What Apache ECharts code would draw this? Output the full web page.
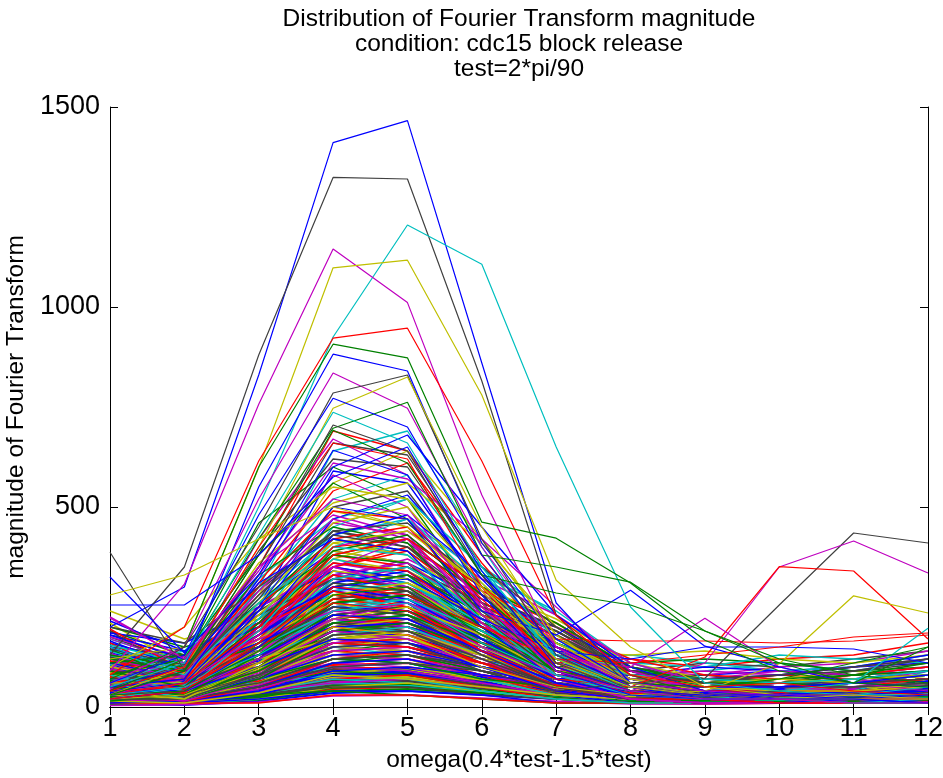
<!DOCTYPE html>
<html>
<head>
<meta charset="utf-8">
<script src="https://cdn.jsdelivr.net/npm/echarts@6/dist/echarts.min.js"></script>
<style>
html,body{margin:0;padding:0;background:#fff;}
#chart{width:943px;height:778px;}
</style>
</head>
<body>
<div id="chart"></div>
<script>
const categories = ['1','2','3','4','5','6','7','8','9','10','11','12'];
const yTicks = [0, 500, 1000, 1500];
const titleLines = ['Distribution of Fourier Transform magnitude', 'condition: cdc15 block release', 'test=2*pi/90'];
const xName = 'omega(0.4*test-1.5*test)';
const yName = 'magnitude of Fourier Transform';
const matlabColors = ['#0000FF', '#008000', '#FF0000', '#00BFBF', '#BF00BF', '#BFBF00', '#404040'];

// prominent lines, each with its own colour
const highLines = [
  [200, 300, 830, 1411, 1466, 860, 260, 60, 40, 30, 25, 30],
  [130, 350, 880, 1324, 1320, 815, 230, 50, 30, 40, 30, 20],
  [60, 120, 500, 925, 1205, 1107, 650, 250, 60, 40, 30, 50],
  [90, 307, 757, 1145, 1011, 530, 150, 60, 40, 30, 30, 20],
  [120, 150, 598, 1098, 1117, 780, 317, 150, 50, 30, 20, 30],
  [80, 200, 615, 922, 947, 615, 228, 80, 50, 60, 40, 30],
  [70, 150, 600, 907, 873, 462, 422, 310, 167, 90, 60, 50],
  [50, 100, 550, 882, 840, 410, 170, 60, 30, 20, 20, 30],
  [60, 150, 520, 835, 747, 400, 150, 50, 30, 30, 20, 20],
  [40, 150, 450, 785, 830, 420, 130, 40, 30, 20, 20, 10],
  [30, 100, 400, 747, 825, 450, 160, 60, 30, 20, 30, 20],
  [40, 120, 420, 697, 762, 380, 350, 312, 190, 120, 80, 60],
  [60, 130, 480, 772, 700, 380, 140, 50, 30, 30, 20, 20],
  [50, 110, 430, 737, 660, 350, 120, 40, 20, 20, 10, 20],
  [387, 92, 380, 705, 640, 330, 110, 40, 20, 20, 10, 10],
  [30, 90, 380, 692, 610, 330, 285, 255, 190, 110, 60, 150],
  [40, 100, 400, 660, 620, 300, 100, 40, 30, 20, 20, 20],
  [325, 135, 330, 642, 580, 280, 90, 30, 20, 20, 20, 10],
  [280, 330, 420, 500, 450, 300, 120, 50, 30, 20, 20, 20],
  [255, 255, 380, 575, 650, 340, 100, 40, 30, 20, 20, 10],
  [222, 120, 350, 520, 480, 260, 90, 40, 20, 20, 10, 10]
];
const highColors = ['#0000FF', '#404040', '#00BFBF', '#BF00BF', '#BFBF00', '#FF0000', '#008000',
  '#0000FF', '#BF00BF', '#404040', '#BFBF00', '#008000', '#0000FF', '#00BFBF', '#404040',
  '#008000', '#FF0000', '#0000FF', '#BFBF00', '#0000FF', '#BF00BF'];

// lines with features on the right side
const rightLines = [
  [20, 30, 80, 150, 160, 90, 40, 60, 72, 255, 435, 410],
  [30, 40, 120, 220, 260, 150, 80, 40, 110, 350, 415, 335],
  [40, 50, 150, 260, 240, 140, 70, 50, 125, 351, 340, 170],
  [20, 30, 100, 200, 180, 100, 50, 30, 40, 108, 278, 235],
  [30, 60, 180, 350, 420, 250, 120, 100, 222, 100, 60, 40],
  [40, 60, 250, 500, 470, 240, 180, 292, 152, 100, 60, 50],
  [30, 60, 200, 400, 420, 300, 170, 165, 165, 160, 165, 180],
  [20, 40, 150, 300, 320, 220, 140, 120, 150, 150, 145, 110],
  [30, 50, 130, 240, 260, 160, 80, 40, 30, 40, 60, 197],
  [20, 40, 160, 300, 280, 200, 120, 110, 130, 150, 175, 185],
  [30, 40, 140, 280, 300, 180, 90, 60, 50, 70, 110, 150]
];
const rightColors = ['#404040', '#BF00BF', '#FF0000', '#BFBF00', '#BF00BF', '#0000FF', '#FF0000',
  '#0000FF', '#00BFBF', '#FF0000', '#008000'];

const upperLines = [
  [50, 80, 350, 690, 640, 380, 140, 40, 30, 20, 20, 10],
  [70, 60, 300, 640, 690, 400, 120, 50, 20, 30, 20, 20],
  [30, 90, 420, 670, 580, 290, 90, 30, 20, 10, 20, 10],
  [100, 70, 280, 560, 640, 420, 180, 60, 30, 20, 30, 20],
  [40, 110, 390, 620, 600, 330, 110, 40, 20, 20, 10, 20],
  [60, 50, 250, 590, 560, 300, 100, 30, 20, 20, 20, 10],
  [80, 120, 460, 600, 520, 260, 80, 30, 20, 10, 10, 10],
  [20, 60, 310, 540, 610, 360, 150, 50, 30, 20, 20, 20],
  [150, 90, 290, 520, 580, 340, 130, 40, 30, 20, 30, 30],
  [30, 70, 330, 580, 500, 250, 70, 20, 10, 10, 10, 10],
  [50, 100, 360, 510, 560, 410, 200, 80, 30, 20, 20, 20],
  [90, 80, 270, 500, 540, 300, 100, 40, 20, 20, 20, 20],
  [40, 40, 240, 470, 530, 320, 130, 50, 30, 20, 10, 20],
  [110, 130, 380, 560, 470, 230, 80, 30, 20, 20, 10, 10],
  [60, 90, 300, 490, 470, 280, 110, 40, 30, 20, 20, 20],
  [20, 50, 220, 450, 520, 350, 170, 60, 30, 20, 20, 20],
  [170, 110, 350, 480, 430, 230, 80, 30, 20, 10, 20, 10],
  [40, 60, 260, 460, 500, 290, 110, 40, 20, 20, 20, 10],
  [70, 80, 280, 440, 460, 300, 140, 60, 40, 30, 20, 20],
  [30, 50, 200, 430, 480, 330, 150, 50, 20, 20, 10, 10],
  [120, 90, 330, 450, 410, 220, 90, 40, 20, 20, 20, 20],
  [50, 70, 250, 420, 450, 270, 100, 30, 20, 10, 10, 10],
  [80, 40, 190, 400, 470, 310, 130, 50, 30, 20, 20, 20],
  [30, 80, 290, 470, 420, 210, 70, 20, 10, 10, 10, 10],
  [60, 60, 230, 410, 440, 300, 160, 70, 40, 20, 20, 20],
  [200, 160, 300, 430, 400, 240, 100, 40, 20, 20, 20, 20],
  [40, 100, 310, 420, 390, 200, 70, 30, 20, 10, 20, 10],
  [90, 50, 210, 390, 430, 280, 120, 50, 30, 20, 20, 20],
  [20, 40, 180, 380, 420, 260, 90, 30, 20, 10, 10, 10],
  [140, 80, 260, 400, 380, 220, 80, 30, 20, 20, 10, 10],
  [60, 120, 340, 610, 570, 420, 250, 90, 40, 30, 20, 20],
  [100, 200, 420, 550, 520, 310, 140, 60, 30, 20, 20, 20],
  [30, 90, 350, 660, 630, 350, 200, 80, 30, 20, 20, 20],
  [50, 70, 320, 600, 680, 450, 230, 100, 40, 20, 20, 20]
];

const middleLines = [
  [40, 50, 200, 380, 360, 200, 70, 30, 20, 20, 10, 10],
  [60, 40, 170, 350, 390, 250, 100, 40, 20, 20, 20, 20],
  [30, 70, 220, 370, 330, 170, 60, 20, 10, 10, 10, 10],
  [80, 60, 160, 330, 360, 230, 110, 50, 30, 20, 20, 20],
  [20, 30, 150, 340, 320, 190, 70, 30, 20, 10, 10, 10],
  [50, 80, 230, 320, 300, 160, 60, 20, 20, 10, 10, 10],
  [100, 60, 180, 310, 340, 220, 90, 40, 30, 20, 20, 20],
  [30, 40, 140, 300, 330, 200, 80, 30, 20, 20, 20, 10],
  [70, 90, 210, 330, 290, 150, 50, 20, 10, 10, 10, 10],
  [40, 30, 130, 290, 310, 210, 100, 40, 20, 20, 10, 20],
  [120, 80, 190, 300, 280, 160, 70, 30, 20, 20, 20, 20],
  [20, 50, 170, 280, 300, 190, 80, 30, 20, 10, 10, 10],
  [60, 40, 120, 270, 290, 180, 70, 30, 20, 20, 20, 20],
  [30, 60, 180, 290, 260, 140, 50, 20, 10, 10, 10, 10],
  [90, 50, 150, 260, 280, 190, 90, 40, 30, 20, 20, 20],
  [40, 70, 160, 270, 250, 150, 60, 20, 20, 10, 10, 10],
  [20, 30, 110, 250, 270, 170, 70, 30, 20, 20, 10, 10],
  [50, 40, 140, 240, 260, 180, 90, 40, 20, 20, 20, 20],
  [80, 70, 170, 260, 230, 130, 50, 20, 10, 10, 10, 10],
  [30, 20, 100, 230, 250, 160, 70, 30, 20, 10, 10, 10],
  [150, 90, 160, 250, 240, 150, 60, 30, 20, 20, 20, 20],
  [40, 50, 130, 220, 240, 170, 80, 40, 30, 20, 20, 20],
  [60, 30, 120, 230, 210, 130, 50, 20, 10, 10, 10, 10],
  [20, 40, 110, 210, 230, 150, 70, 30, 20, 20, 10, 10],
  [70, 60, 140, 220, 200, 120, 40, 20, 10, 10, 10, 10],
  [30, 20, 90, 200, 220, 150, 70, 30, 20, 20, 20, 20],
  [50, 50, 120, 210, 190, 110, 50, 20, 20, 10, 10, 10],
  [110, 70, 130, 200, 210, 140, 60, 30, 20, 20, 20, 20],
  [20, 30, 90, 190, 210, 140, 60, 20, 10, 10, 10, 10],
  [40, 40, 110, 200, 180, 110, 40, 20, 10, 10, 10, 10],
  [60, 20, 80, 180, 200, 130, 60, 30, 20, 20, 20, 20],
  [30, 50, 100, 190, 170, 100, 40, 20, 10, 10, 10, 10],
  [90, 60, 120, 170, 190, 130, 70, 30, 20, 20, 20, 20],
  [20, 20, 80, 180, 190, 120, 50, 20, 10, 10, 10, 10],
  [50, 40, 100, 170, 160, 100, 40, 20, 10, 10, 10, 10],
  [130, 100, 150, 230, 220, 140, 60, 30, 20, 20, 20, 20],
  [40, 60, 190, 360, 340, 210, 90, 40, 20, 20, 20, 20],
  [70, 40, 160, 320, 350, 240, 120, 50, 30, 20, 20, 20],
  [30, 80, 250, 350, 300, 170, 60, 20, 10, 10, 10, 10],
  [90, 50, 140, 280, 310, 230, 110, 50, 30, 20, 20, 20],
  [20, 40, 160, 310, 290, 170, 60, 20, 10, 10, 10, 10],
  [180, 120, 200, 300, 270, 170, 70, 30, 20, 20, 20, 20],
  [50, 30, 130, 260, 280, 200, 90, 40, 20, 20, 20, 20],
  [60, 70, 200, 290, 250, 140, 50, 20, 20, 10, 10, 10],
  [30, 50, 150, 240, 270, 190, 100, 50, 30, 20, 20, 20],
  [100, 80, 170, 240, 220, 140, 60, 30, 20, 20, 10, 10],
  [40, 20, 110, 220, 250, 180, 80, 30, 20, 20, 20, 20],
  [70, 60, 150, 250, 230, 130, 50, 20, 10, 10, 10, 10],
  [20, 40, 120, 230, 220, 140, 60, 30, 20, 20, 20, 10],
  [50, 30, 100, 210, 230, 160, 80, 40, 20, 20, 20, 20]
];

const denseLines = [
  [45, 35, 110, 230, 250, 170, 120, 60, 50, 70, 60, 80],
  [160, 70, 150, 280, 300, 210, 150, 80, 40, 30, 50, 60],
  [90, 40, 200, 420, 380, 240, 160, 70, 60, 50, 40, 90],
  [30, 60, 170, 310, 350, 260, 190, 90, 40, 60, 70, 50],
  [210, 100, 180, 250, 230, 160, 100, 50, 30, 40, 30, 40],
  [60, 25, 90, 190, 210, 160, 130, 70, 80, 60, 90, 110],
  [120, 90, 260, 390, 360, 230, 170, 90, 50, 40, 60, 70],
  [15, 30, 140, 280, 260, 180, 140, 40, 30, 20, 30, 40],
  [75, 55, 160, 350, 400, 290, 210, 100, 60, 50, 40, 60],
  [140, 120, 230, 330, 300, 190, 120, 60, 40, 50, 60, 80],
  [35, 15, 70, 160, 180, 140, 110, 80, 70, 90, 80, 100],
  [100, 60, 190, 370, 420, 300, 220, 110, 70, 60, 50, 70],
  [55, 80, 240, 440, 400, 260, 180, 80, 40, 30, 40, 50],
  [180, 140, 210, 300, 280, 200, 140, 70, 50, 60, 70, 90],
  [25, 45, 120, 260, 290, 220, 160, 90, 60, 70, 60, 80],
  [85, 30, 100, 220, 240, 180, 130, 60, 40, 30, 30, 40],
  [130, 75, 170, 290, 330, 240, 180, 90, 50, 40, 50, 60],
  [50, 100, 280, 460, 430, 280, 190, 80, 50, 40, 40, 50],
  [240, 170, 220, 310, 290, 180, 110, 50, 30, 30, 30, 40],
  [40, 20, 80, 200, 230, 170, 120, 70, 60, 80, 90, 120],
  [110, 50, 130, 250, 270, 200, 150, 80, 60, 50, 70, 80],
  [65, 85, 220, 360, 340, 230, 160, 70, 40, 30, 30, 40],
  [20, 35, 130, 300, 330, 250, 200, 120, 80, 70, 60, 70],
  [170, 110, 190, 270, 250, 170, 110, 60, 40, 50, 40, 60],
  [95, 65, 150, 320, 370, 280, 200, 100, 60, 50, 60, 70],
  [45, 90, 250, 410, 380, 250, 180, 90, 50, 40, 50, 50],
  [150, 130, 240, 350, 320, 220, 150, 70, 50, 40, 40, 50],
  [30, 50, 140, 240, 260, 200, 150, 90, 70, 80, 100, 130],
  [200, 150, 200, 280, 260, 180, 120, 60, 40, 30, 40, 50],
  [70, 40, 120, 270, 300, 230, 170, 90, 60, 50, 50, 60],
  [125, 95, 210, 340, 310, 200, 140, 70, 50, 60, 50, 70],
  [55, 25, 110, 230, 260, 190, 140, 80, 60, 50, 60, 90],
  [85, 110, 300, 490, 450, 300, 210, 100, 60, 50, 40, 50],
  [190, 80, 160, 260, 240, 170, 120, 60, 40, 40, 30, 40],
  [35, 60, 180, 330, 360, 270, 200, 100, 60, 50, 50, 60],
  [145, 60, 140, 230, 250, 190, 140, 80, 60, 60, 70, 80],
  [60, 35, 100, 210, 220, 160, 120, 70, 50, 60, 80, 100],
  [105, 140, 320, 470, 520, 350, 230, 100, 50, 40, 50, 60],
  [225, 120, 190, 290, 270, 190, 130, 70, 50, 40, 40, 50],
  [40, 70, 200, 370, 340, 250, 170, 80, 50, 50, 40, 60],
  [80, 45, 120, 240, 280, 220, 170, 100, 70, 60, 60, 70],
  [165, 95, 170, 260, 240, 170, 120, 60, 40, 30, 40, 50],
  [25, 20, 70, 170, 190, 150, 110, 70, 60, 70, 80, 90],
  [115, 85, 220, 380, 350, 240, 170, 80, 50, 40, 50, 60],
  [50, 105, 270, 430, 470, 330, 240, 110, 60, 50, 50, 60],
  [135, 65, 130, 220, 240, 180, 130, 70, 50, 50, 60, 70],
  [70, 50, 160, 300, 280, 200, 150, 70, 50, 40, 50, 60],
  [95, 130, 290, 440, 410, 280, 200, 90, 50, 40, 40, 50],
  [185, 160, 250, 340, 310, 210, 140, 70, 40, 40, 30, 40],
  [20, 40, 120, 260, 280, 210, 160, 90, 70, 60, 80, 110],
  [75, 30, 90, 180, 200, 150, 110, 60, 50, 50, 60, 70],
  [155, 110, 200, 310, 290, 200, 140, 70, 50, 40, 50, 60],
  [45, 75, 210, 400, 440, 320, 230, 110, 60, 50, 40, 50],
  [110, 60, 140, 270, 250, 180, 130, 70, 60, 70, 60, 80],
  [30, 25, 90, 200, 220, 170, 130, 80, 70, 80, 100, 120],
  [215, 140, 210, 320, 300, 200, 130, 60, 40, 30, 40, 40],
  [65, 95, 260, 420, 390, 260, 190, 90, 50, 40, 40, 50],
  [90, 45, 130, 250, 270, 200, 150, 80, 60, 50, 50, 70],
  [40, 55, 170, 330, 310, 220, 160, 80, 50, 50, 50, 60],
  [175, 125, 230, 360, 330, 220, 150, 70, 50, 40, 40, 50],
  [60, 20, 80, 170, 180, 130, 100, 60, 50, 60, 70, 80],
  [125, 80, 180, 300, 330, 250, 180, 90, 60, 50, 60, 70],
  [35, 65, 200, 350, 320, 220, 150, 70, 40, 40, 40, 50],
  [80, 100, 260, 380, 420, 300, 210, 100, 60, 60, 50, 60],
  [195, 90, 170, 280, 260, 180, 120, 60, 40, 40, 40, 50],
  [50, 30, 100, 210, 230, 170, 130, 80, 70, 60, 70, 90],
  [100, 70, 190, 330, 300, 200, 140, 70, 50, 50, 50, 60],
  [30, 85, 230, 390, 360, 240, 170, 80, 50, 40, 40, 50],
  [145, 105, 210, 320, 350, 260, 190, 90, 60, 50, 50, 60],
  [70, 40, 110, 220, 200, 150, 110, 60, 50, 50, 60, 80]
];

const fillLines = [
  [25, 15, 55, 110, 120, 90, 60, 40, 30, 50, 40, 60],
  [65, 45, 95, 160, 170, 120, 80, 50, 60, 40, 50, 70],
  [15, 25, 75, 180, 190, 130, 90, 60, 40, 30, 30, 40],
  [105, 75, 115, 190, 180, 130, 80, 40, 30, 40, 50, 40],
  [45, 20, 60, 140, 160, 120, 90, 60, 50, 60, 70, 50],
  [35, 55, 130, 210, 200, 140, 90, 50, 30, 20, 30, 30],
  [85, 35, 70, 150, 140, 100, 70, 50, 40, 30, 40, 50],
  [20, 10, 45, 100, 110, 80, 60, 40, 40, 50, 60, 70],
  [55, 65, 150, 230, 220, 150, 100, 60, 40, 30, 40, 40],
  [125, 85, 120, 170, 160, 110, 70, 40, 30, 30, 30, 40],
  [10, 15, 40, 90, 100, 80, 50, 30, 30, 40, 30, 50],
  [70, 50, 110, 200, 210, 150, 100, 60, 50, 50, 60, 60],
  [40, 25, 80, 170, 150, 100, 60, 30, 20, 30, 20, 30],
  [95, 60, 100, 160, 180, 140, 100, 70, 60, 70, 60, 70],
  [30, 40, 90, 150, 140, 90, 60, 40, 20, 20, 30, 40],
  [150, 90, 110, 150, 140, 100, 60, 40, 30, 30, 40, 50],
  [20, 20, 70, 160, 170, 130, 90, 50, 40, 40, 50, 60],
  [60, 40, 90, 190, 220, 170, 120, 70, 50, 40, 40, 50],
  [45, 30, 60, 120, 110, 70, 50, 30, 20, 30, 30, 20],
  [115, 70, 130, 220, 210, 150, 100, 60, 40, 40, 50, 60],
  [25, 35, 100, 200, 230, 170, 110, 60, 40, 30, 40, 40],
  [80, 45, 85, 140, 150, 110, 80, 60, 50, 60, 50, 60],
  [15, 10, 35, 80, 70, 50, 30, 20, 20, 20, 30, 30],
  [55, 50, 120, 240, 250, 180, 120, 70, 50, 40, 40, 50],
  [135, 100, 140, 200, 190, 130, 80, 50, 30, 30, 30, 40],
  [35, 20, 50, 110, 130, 100, 70, 50, 40, 50, 60, 80],
  [70, 60, 130, 210, 190, 130, 90, 50, 40, 30, 30, 40],
  [100, 50, 90, 170, 190, 140, 100, 60, 40, 50, 40, 50],
  [20, 30, 80, 130, 120, 80, 50, 30, 20, 20, 20, 30],
  [50, 30, 70, 150, 170, 130, 90, 60, 50, 40, 50, 60],
  [175, 110, 150, 210, 200, 140, 90, 50, 30, 30, 40, 40],
  [40, 45, 110, 190, 180, 120, 80, 40, 30, 30, 30, 40],
  [90, 55, 100, 180, 200, 160, 110, 70, 50, 50, 60, 70],
  [30, 15, 50, 120, 140, 110, 80, 50, 40, 40, 40, 50],
  [60, 75, 160, 260, 240, 160, 110, 60, 40, 40, 30, 40],
  [110, 65, 110, 190, 210, 150, 100, 60, 40, 30, 40, 50],
  [25, 25, 60, 140, 150, 110, 70, 40, 30, 30, 40, 40],
  [75, 40, 80, 160, 150, 100, 70, 50, 40, 40, 50, 60],
  [45, 60, 140, 220, 240, 170, 120, 70, 50, 40, 40, 50],
  [130, 80, 120, 190, 170, 110, 70, 40, 30, 30, 30, 40]
];

const baseLines = [
  [15, 10, 25, 60, 70, 50, 30, 20, 15, 20, 25, 30],
  [35, 25, 40, 75, 80, 60, 40, 25, 30, 35, 40, 45],
  [5, 8, 20, 45, 50, 35, 20, 10, 8, 10, 12, 15],
  [25, 15, 35, 85, 95, 70, 45, 30, 25, 20, 30, 35],
  [55, 35, 45, 70, 65, 45, 30, 20, 20, 25, 30, 40],
  [12, 18, 30, 55, 60, 45, 30, 15, 20, 30, 35, 25],
  [45, 30, 55, 95, 90, 65, 40, 30, 35, 40, 45, 55],
  [8, 5, 15, 35, 40, 30, 20, 12, 10, 15, 20, 20],
  [28, 22, 50, 90, 85, 55, 35, 20, 15, 15, 20, 25],
  [65, 45, 60, 90, 100, 75, 50, 35, 30, 30, 35, 45],
  [18, 12, 28, 65, 75, 60, 40, 25, 20, 25, 20, 30],
  [38, 28, 42, 65, 60, 40, 25, 15, 15, 20, 25, 25],
  [10, 15, 35, 75, 70, 50, 35, 25, 30, 35, 30, 40],
  [50, 20, 30, 55, 65, 55, 40, 30, 25, 30, 40, 50],
  [22, 30, 45, 80, 90, 70, 50, 35, 40, 45, 50, 60],
  [6, 10, 18, 40, 45, 35, 25, 15, 12, 12, 15, 18],
  [42, 35, 60, 100, 95, 70, 45, 30, 20, 25, 30, 35],
  [16, 8, 20, 50, 55, 40, 25, 18, 18, 22, 28, 32],
  [32, 18, 38, 70, 80, 60, 45, 35, 30, 35, 45, 50],
  [75, 50, 55, 80, 75, 55, 35, 25, 20, 20, 25, 30],
  [12, 22, 40, 85, 80, 55, 35, 20, 15, 20, 18, 22],
  [48, 32, 50, 85, 95, 75, 55, 40, 35, 40, 50, 65],
  [20, 14, 26, 48, 52, 38, 24, 16, 14, 16, 20, 24],
  [60, 40, 65, 105, 110, 80, 55, 35, 30, 35, 40, 50],
  [26, 20, 35, 60, 55, 40, 28, 18, 16, 18, 22, 26],
  [4, 6, 12, 28, 30, 22, 14, 8, 8, 10, 10, 12],
  [36, 26, 48, 88, 92, 68, 44, 28, 26, 30, 36, 42],
  [14, 20, 32, 68, 64, 46, 30, 22, 24, 28, 32, 38],
  [54, 38, 52, 78, 84, 62, 42, 30, 28, 32, 38, 46],
  [9, 12, 22, 52, 58, 42, 28, 18, 16, 20, 24, 28]
];

const lowLines = [
  [30, 20, 60, 140, 150, 100, 50, 20, 10, 10, 10, 10],
  [50, 40, 80, 150, 130, 80, 30, 20, 10, 10, 10, 10],
  [20, 30, 70, 130, 140, 90, 40, 20, 20, 10, 10, 10],
  [80, 50, 90, 140, 120, 70, 30, 20, 20, 20, 20, 20],
  [10, 20, 50, 120, 130, 90, 40, 20, 10, 10, 10, 10],
  [40, 30, 70, 120, 110, 70, 30, 10, 10, 10, 10, 10],
  [60, 40, 80, 130, 120, 80, 40, 20, 20, 20, 10, 10],
  [20, 10, 40, 110, 120, 80, 40, 20, 10, 10, 10, 10],
  [30, 30, 60, 100, 110, 70, 30, 20, 10, 10, 10, 10],
  [100, 60, 70, 110, 100, 60, 30, 20, 20, 20, 20, 20],
  [20, 20, 50, 90, 100, 70, 30, 10, 10, 10, 10, 10],
  [40, 30, 60, 100, 90, 60, 20, 10, 10, 10, 10, 10],
  [10, 10, 30, 80, 90, 60, 30, 10, 10, 10, 10, 10],
  [50, 40, 50, 90, 80, 50, 30, 20, 20, 20, 20, 20],
  [30, 20, 40, 70, 80, 50, 20, 10, 10, 10, 10, 10],
  [20, 30, 40, 70, 60, 40, 20, 10, 10, 10, 10, 10],
  [60, 30, 40, 60, 70, 50, 30, 20, 20, 20, 20, 20],
  [10, 10, 20, 50, 60, 40, 20, 10, 10, 10, 10, 10],
  [30, 20, 30, 50, 50, 30, 20, 10, 10, 10, 10, 10],
  [20, 10, 20, 40, 40, 30, 10, 10, 10, 10, 10, 10],
  [40, 20, 30, 40, 30, 20, 10, 10, 10, 10, 10, 10],
  [10, 10, 10, 30, 30, 20, 10, 10, 10, 10, 10, 10],
  [70, 50, 60, 80, 70, 40, 20, 10, 10, 10, 10, 10],
  [90, 70, 80, 100, 90, 60, 30, 20, 10, 10, 10, 10],
  [120, 80, 90, 130, 120, 70, 30, 20, 20, 20, 20, 20],
  [140, 100, 120, 150, 140, 90, 40, 20, 20, 20, 20, 20],
  [160, 110, 130, 160, 150, 100, 50, 30, 20, 20, 20, 20],
  [190, 130, 140, 170, 160, 90, 40, 20, 20, 20, 20, 20],
  [110, 90, 100, 140, 130, 80, 30, 20, 10, 10, 10, 10],
  [80, 60, 70, 100, 110, 70, 30, 20, 10, 10, 10, 10]
];

const tailLines = [
  [20, 30, 80, 160, 170, 110, 60, 40, 60, 80, 70, 90],
  [30, 40, 100, 200, 190, 120, 70, 80, 90, 110, 90, 120],
  [40, 30, 90, 170, 180, 130, 90, 100, 70, 60, 80, 100],
  [20, 20, 60, 130, 140, 100, 70, 60, 50, 70, 60, 80],
  [30, 50, 120, 220, 200, 140, 100, 90, 110, 100, 120, 140],
  [50, 40, 80, 150, 160, 120, 80, 70, 80, 90, 100, 110],
  [20, 30, 70, 120, 130, 90, 60, 50, 40, 50, 40, 60],
  [40, 60, 130, 250, 230, 150, 110, 120, 100, 120, 130, 160],
  [60, 50, 110, 210, 220, 160, 120, 130, 110, 90, 100, 130],
  [30, 30, 70, 140, 150, 110, 80, 90, 80, 100, 110, 140],
  [20, 40, 90, 180, 170, 120, 90, 70, 60, 70, 90, 70],
  [50, 30, 60, 120, 130, 100, 70, 60, 70, 60, 50, 40],
  [30, 20, 50, 110, 120, 80, 60, 40, 30, 40, 50, 30],
  [40, 50, 110, 190, 200, 150, 100, 110, 120, 110, 90, 100],
  [20, 30, 80, 160, 150, 110, 70, 50, 40, 30, 40, 50],
  [70, 60, 140, 260, 270, 180, 130, 110, 100, 130, 120, 110],
  [30, 40, 90, 170, 190, 140, 100, 80, 90, 80, 100, 120],
  [50, 60, 150, 300, 290, 200, 140, 130, 140, 120, 110, 130],
  [20, 20, 50, 100, 110, 90, 60, 50, 50, 40, 50, 60],
  [40, 30, 70, 130, 140, 100, 70, 80, 100, 90, 80, 90]
];

const FONT = "'Liberation Sans', Arial, Helvetica, sans-serif";
const series = [];
let k = 0;
function addGroup(lines, colors, width) {
  lines.forEach((vals, i) => {
    const c = colors ? colors[i] : matlabColors[k % matlabColors.length];
    k++;
    series.push({
      type: 'line', data: vals, xAxisIndex: 0, yAxisIndex: 0,
      symbol: 'none', silent: true, animation: false,
      lineStyle: { color: c, width: width }, itemStyle: { color: c }
    });
  });
}
addGroup(baseLines, null, 1.8);
addGroup(lowLines, null, 1.6);
addGroup(fillLines, null, 1.6);
addGroup(tailLines, null, 1.6);
addGroup(denseLines, null, 1.5);
addGroup(middleLines, null, 1.5);
addGroup(upperLines, null, 1.3);
addGroup(rightLines, rightColors, 1.2);
addGroup(highLines, highColors, 1.2);

const chart = echarts.init(document.getElementById('chart'), null, { renderer: 'canvas' });
const axisLineStyle = { show: true, lineStyle: { color: '#000', width: 1 } };
chart.setOption({
  animation: false,
  backgroundColor: '#fff',
  grid: { left: 110, right: 15, top: 107, bottom: 71, containLabel: false, outerBoundsMode: 'none' },
  graphic: titleLines.map((t, i) => ({
    type: 'text', x: 519, y: 19 + i * 25,
    style: { text: t, font: "24.5px " + FONT, fill: '#000', textAlign: 'center', textVerticalAlign: 'middle' }
  })),
  xAxis: [
    {
      type: 'category', data: categories, boundaryGap: false, position: 'bottom',
      axisLine: axisLineStyle,
      axisTick: { show: true, inside: true, length: 8, alignWithLabel: true, lineStyle: { color: '#000' } },
      axisLabel: { color: '#000', fontFamily: FONT, fontSize: 27, margin: 8 },
      splitLine: { show: false },
      name: xName, nameLocation: 'middle', nameGap: 41,
      nameTextStyle: { color: '#000', fontFamily: FONT, fontSize: 24.5 }
    },
    {
      type: 'category', data: categories, boundaryGap: false, position: 'top',
      axisLine: axisLineStyle,
      axisTick: { show: true, inside: true, length: 8, lineStyle: { color: '#000' } },
      axisLabel: { show: false }, splitLine: { show: false }
    }
  ],
  yAxis: [
    {
      type: 'value', min: yTicks[0], max: yTicks[yTicks.length - 1], interval: 500, position: 'left',
      axisLine: axisLineStyle,
      axisTick: { show: true, inside: true, length: 8, lineStyle: { color: '#000' } },
      axisLabel: { color: '#000', fontFamily: FONT, fontSize: 27, margin: 10, formatter: v => String(v) },
      splitLine: { show: false },
      name: yName, nameLocation: 'middle', nameGap: 63, nameRotate: 90,
      nameTextStyle: { color: '#000', fontFamily: FONT, fontSize: 24.5 }
    },
    {
      type: 'value', min: yTicks[0], max: yTicks[yTicks.length - 1], interval: 500, position: 'right',
      axisLine: axisLineStyle,
      axisTick: { show: true, inside: true, length: 8, lineStyle: { color: '#000' } },
      axisLabel: { show: false }, splitLine: { show: false }
    }
  ],
  series: series
});
</script>
</body>
</html>
